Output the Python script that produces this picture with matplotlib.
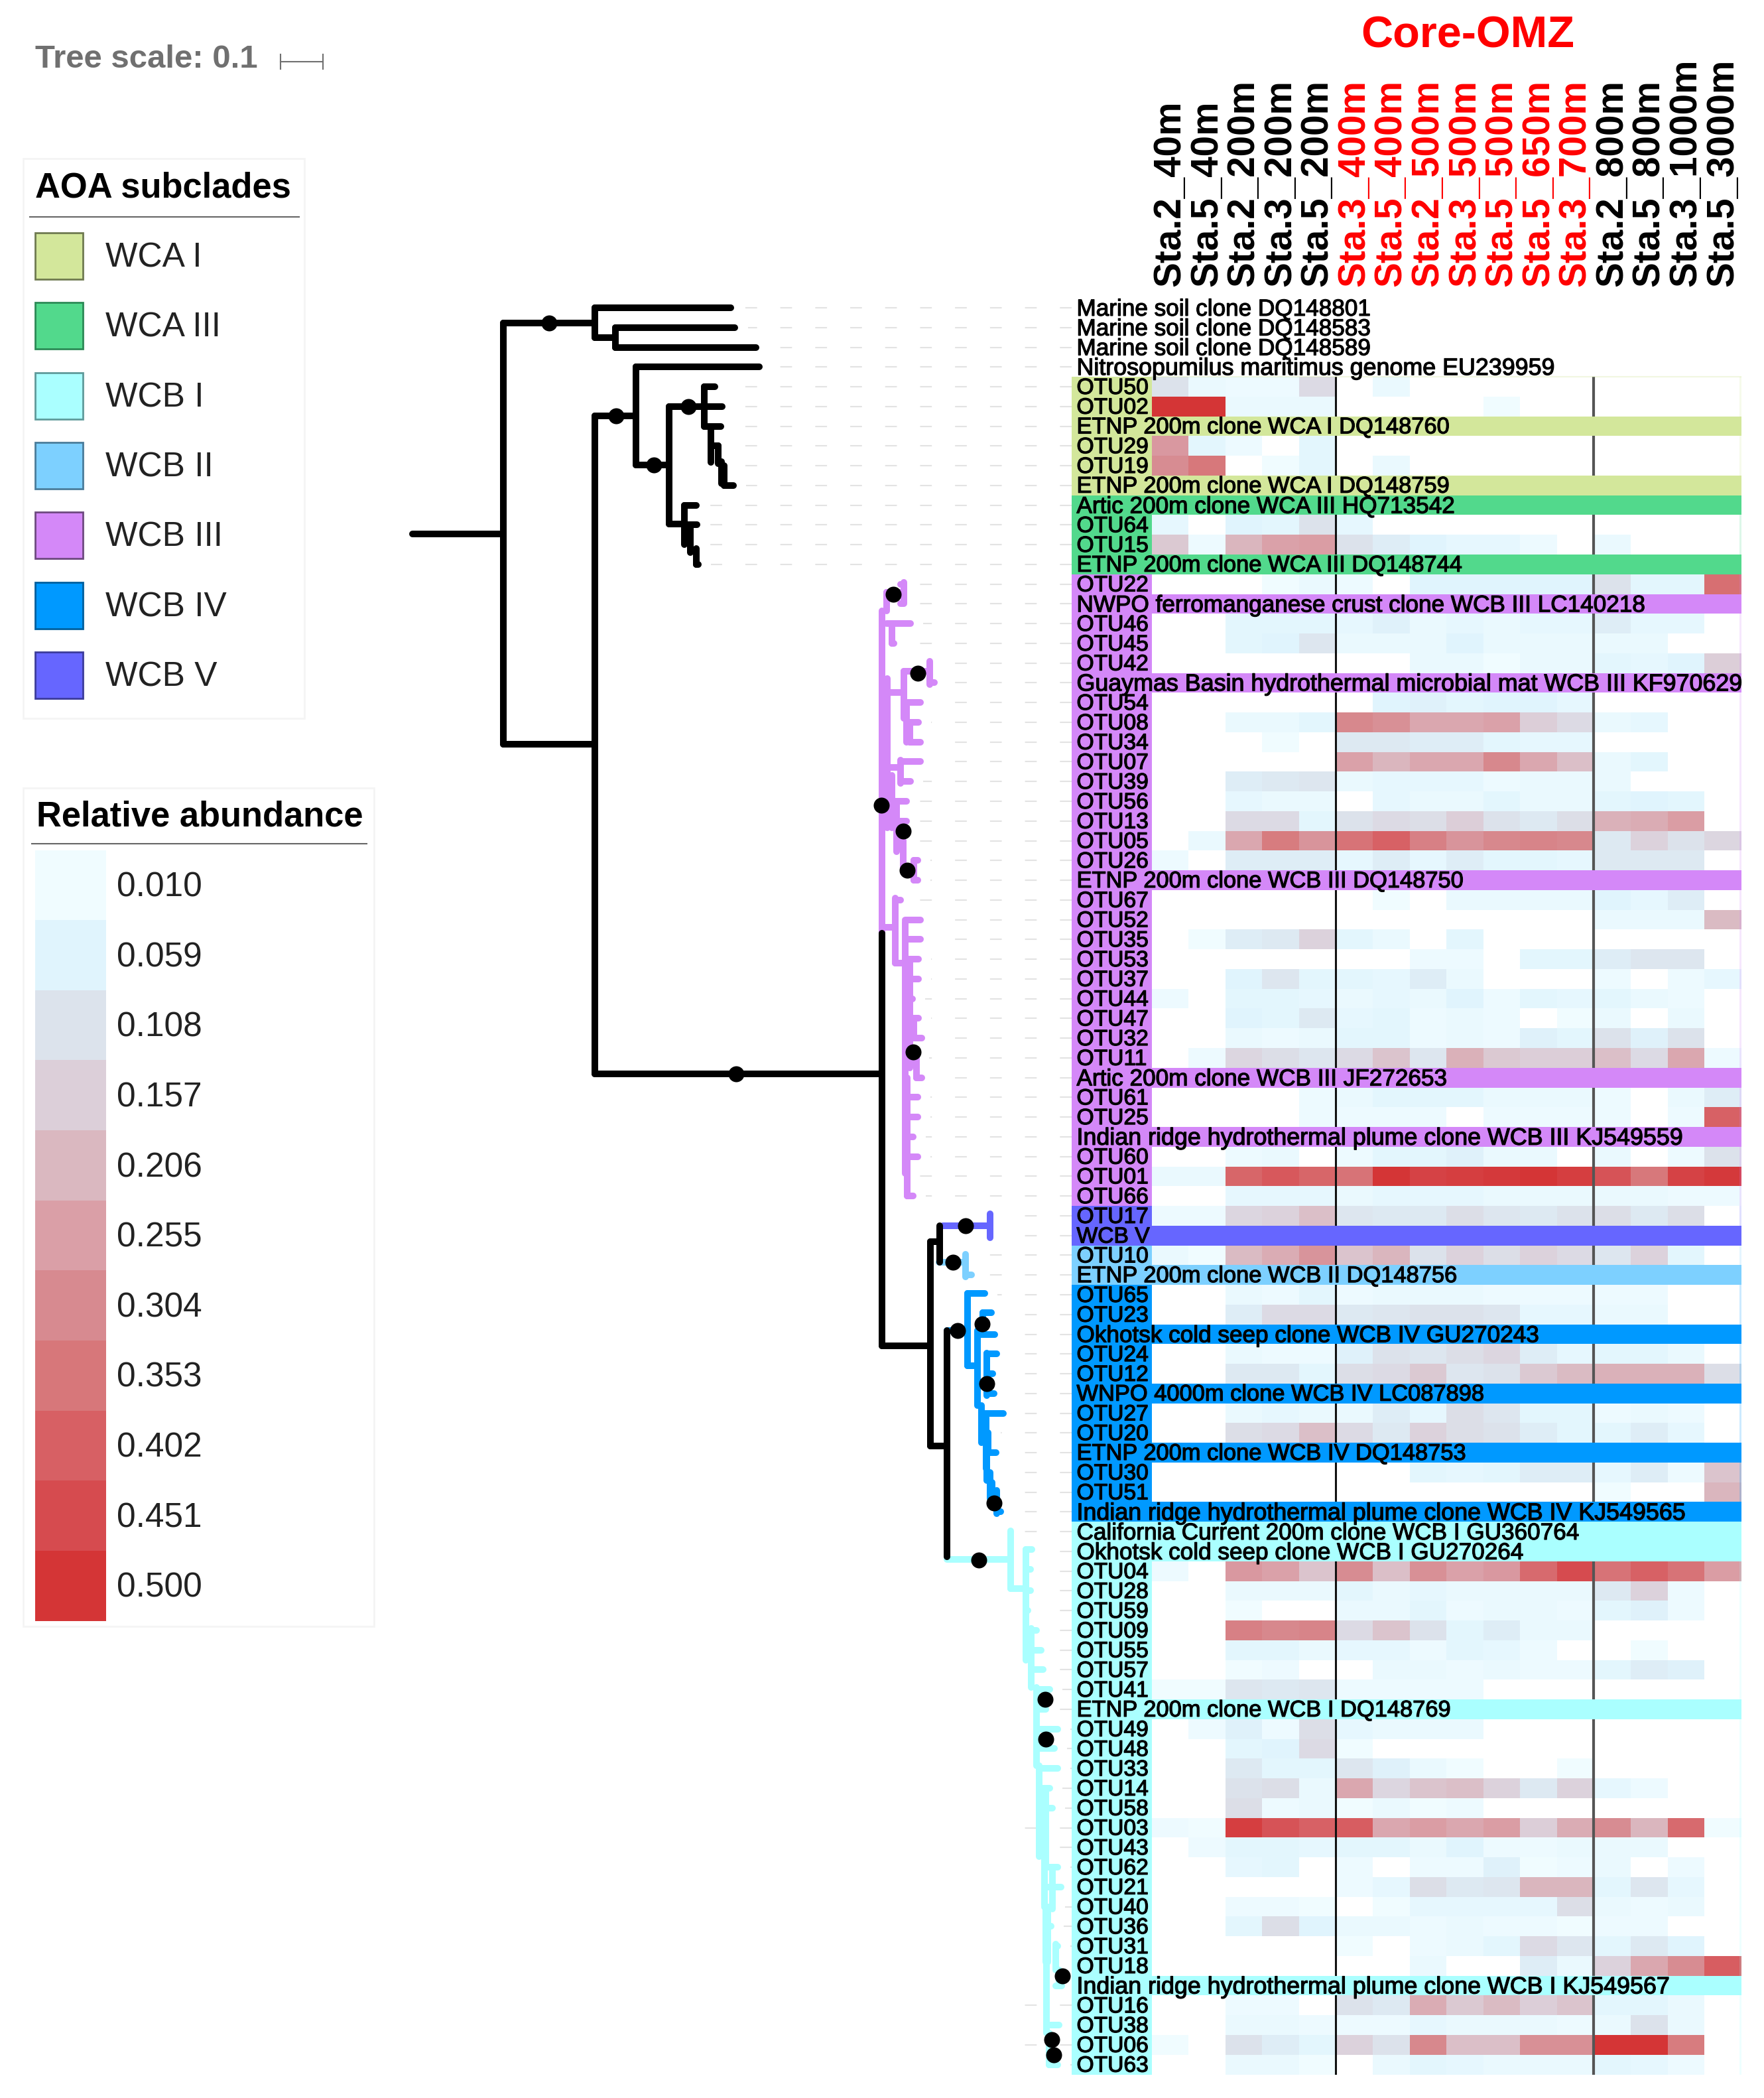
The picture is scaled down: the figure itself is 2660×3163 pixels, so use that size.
# heatmap of AOA OTUs next to the phylogenetic tree
import numpy as np
import matplotlib
matplotlib.use('Agg')
import matplotlib.pyplot as plt
import matplotlib.patheffects as pe
from matplotlib.colors import LinearSegmentedColormap
from matplotlib.patches import Rectangle

plt.rcParams['font.family'] = ['Liberation Sans', 'DejaVu Sans']

W, H = 2660, 3163
ROW0, ROWH = 464, 29.76

# samples along the top, 5..11 are the core OMZ ones
col_labels = ['Sta.2_40m', 'Sta.5_40m', 'Sta.2_200m', 'Sta.3_200m', 'Sta.5_200m', 'Sta.3_400m', 'Sta.5_400m',
              'Sta.2_500m', 'Sta.3_500m', 'Sta.5_500m', 'Sta.5_650m', 'Sta.3_700m', 'Sta.2_800m', 'Sta.5_800m',
              'Sta.3_1000m', 'Sta.5_3000m']
core_cols = [5, 6, 7, 8, 9, 10, 11]

row_labels = ['Marine soil clone DQ148801', 'Marine soil clone DQ148583', 'Marine soil clone DQ148589',
              'Nitrosopumilus maritimus genome EU239959',
              'OTU50', 'OTU02', 'ETNP 200m clone WCA I DQ148760', 'OTU29', 'OTU19', 'ETNP 200m clone WCA I DQ148759',
              'Artic 200m clone WCA III HQ713542', 'OTU64', 'OTU15', 'ETNP 200m clone WCA III DQ148744',
              'OTU22', 'NWPO ferromanganese crust clone WCB III LC140218', 'OTU46', 'OTU45', 'OTU42',
              'Guaymas Basin hydrothermal microbial mat WCB III KF970629', 'OTU54', 'OTU08', 'OTU34', 'OTU07', 'OTU39',
              'OTU56', 'OTU13', 'OTU05', 'OTU26', 'ETNP 200m clone WCB III DQ148750', 'OTU67', 'OTU52', 'OTU35',
              'OTU53', 'OTU37', 'OTU44', 'OTU47', 'OTU32', 'OTU11', 'Artic 200m clone WCB III JF272653', 'OTU61',
              'OTU25', 'Indian ridge hydrothermal plume clone WCB III KJ549559', 'OTU60', 'OTU01', 'OTU66',
              'OTU17', 'WCB V',
              'OTU10', 'ETNP 200m clone WCB II DQ148756',
              'OTU65', 'OTU23', 'Okhotsk cold seep clone WCB IV GU270243', 'OTU24', 'OTU12',
              'WNPO 4000m clone WCB IV LC087898', 'OTU27', 'OTU20', 'ETNP 200m clone WCB IV DQ148753', 'OTU30', 'OTU51',
              'Indian ridge hydrothermal plume clone WCB IV KJ549565',
              'California Current 200m clone WCB I GU360764', 'Okhotsk cold seep clone WCB I GU270264', 'OTU04',
              'OTU28', 'OTU59', 'OTU09', 'OTU55', 'OTU57', 'OTU41', 'ETNP 200m clone WCB I DQ148769', 'OTU49', 'OTU48',
              'OTU33', 'OTU14', 'OTU58', 'OTU03', 'OTU43', 'OTU62', 'OTU21', 'OTU40', 'OTU36', 'OTU31', 'OTU18',
              'Indian ridge hydrothermal plume clone WCB I KJ549567', 'OTU16', 'OTU38', 'OTU06', 'OTU63']
row_clade = [None] * 4 + ['WCA I'] * 6 + ['WCA III'] * 4 + ['WCB III'] * 32 + ['WCB V'] * 2 + ['WCB II'] * 2 \
    + ['WCB IV'] * 12 + ['WCB I'] * 28

clade_names = ['WCA I', 'WCA III', 'WCB I', 'WCB II', 'WCB III', 'WCB IV', 'WCB V']
clade_colors = ['#d3e79b', '#52d98c', '#aaffff', '#7dd0ff', '#d488f8', '#0099ff', '#6666ff']
clade_edges = ['#6f7a50', '#2c8a56', '#5f9a9a', '#4a7c9a', '#6e4a80', '#005f9e', '#3c3c9c']

legend_values = [0.010, 0.059, 0.108, 0.157, 0.206, 0.255, 0.304, 0.353, 0.402, 0.451, 0.500]
legend_colors = ['#f0fcff', '#e0f4fd', '#dce3ec', '#dccfd9', '#dab8c0', '#da9fa7',
                 '#d78a90', '#d7777a', '#d76064', '#d64b4f', '#d43536']

# abundance per sample
OTU50 = [.11, .03, .02, .02, .13, 0, .03, 0, 0, 0, 0, 0, 0, 0, 0, 0]
OTU02 = [.50, .50, .03, .03, .03, 0, 0, 0, 0, .01, 0, 0, 0, 0, 0, 0]
OTU29 = [.27, .05, .02, 0, .05, 0, 0, 0, 0, 0, 0, 0, 0, 0, 0, 0]
OTU19 = [.30, .35, 0, .01, .05, 0, .03, 0, 0, 0, 0, 0, 0, 0, 0, 0]
OTU64 = [.04, 0, .06, .05, .11, .04, 0, 0, 0, 0, 0, 0, 0, 0, 0, 0]
OTU15 = [.17, .02, .21, .25, .26, .11, .08, .06, .04, .04, .02, 0, .03, 0, 0, 0]
OTU22 = [0, 0, 0, .01, .03, .02, 0, .06, .06, .06, .06, .06, .11, .05, .05, .37]
OTU46 = [0, 0, .05, .05, .05, .04, .07, .03, .04, .03, .04, .04, .08, .04, .04, 0]
OTU45 = [0, 0, .05, .06, .10, .03, .03, .03, .06, .03, .03, .03, .03, .03, 0, 0]
OTU42 = [0, 0, 0, 0, 0, 0, 0, .03, .03, .01, .03, .03, .05, .04, .06, .16]
OTU54 = [0, 0, 0, 0, 0, 0, .06, .07, .05, .06, .06, .04, 0, 0, 0, 0]
OTU08 = [0, 0, .03, .03, .05, .31, .29, .24, .24, .25, .16, .13, .03, .04, 0, 0]
OTU34 = [0, 0, 0, .01, 0, .09, .09, .08, .08, .05, .04, .04, 0, 0, 0, 0]
OTU07 = [0, 0, 0, 0, 0, .25, .21, .24, .24, .31, .24, .19, .03, .05, 0, 0]
OTU39 = [0, 0, .08, .09, .10, .03, .04, .04, .04, .02, .03, .03, .03, 0, 0, 0]
OTU56 = [0, 0, .04, .03, .03, 0, .04, .03, .03, .05, .03, .03, .05, .06, .05, 0]
OTU13 = [0, 0, .13, .13, .05, .11, .13, .12, .16, .11, .09, .12, .22, .23, .26, 0]
OTU05 = [0, .03, .24, .34, .28, .36, .40, .33, .28, .31, .32, .31, .09, .15, .11, .14]
OTU26 = [.02, 0, .08, .08, .08, .04, .08, .04, .08, .05, .05, .04, .09, .09, .09, 0]
OTU67 = [0, 0, 0, 0, 0, 0, .01, 0, .03, .03, .03, .03, .06, .04, .08, 0]
OTU52 = [0, 0, 0, 0, 0, 0, 0, 0, 0, 0, 0, 0, .03, .03, .03, .20]
OTU35 = [0, .01, .08, .09, .15, .05, .03, 0, .05, 0, 0, 0, 0, 0, 0, 0]
OTU53 = [0, 0, 0, 0, 0, 0, 0, .02, .02, 0, .05, .05, .08, .10, .10, 0]
OTU37 = [0, 0, .06, .10, .05, .05, .04, .08, .03, 0, 0, 0, .02, 0, .02, .04]
OTU44 = [.02, 0, .05, .05, .04, .03, .04, .03, .06, .02, .05, .04, .05, .03, .02, 0]
OTU47 = [0, 0, .06, .05, .09, .04, .05, .02, .03, .02, 0, .01, .03, 0, .03, 0]
OTU32 = [0, 0, .03, .02, .03, .05, .05, .02, .03, .02, .07, .05, .11, .07, .11, 0]
OTU11 = [0, .02, .14, .12, .10, .13, .18, .10, .22, .17, .16, .16, .19, .13, .24, .02]
OTU61 = [0, 0, 0, 0, .02, .03, .05, .05, .05, .03, .03, .03, .02, 0, .03, .08]
OTU25 = [0, 0, 0, 0, .02, .02, .02, .02, 0, .02, .02, .02, .02, 0, .02, .40]
OTU60 = [0, 0, .02, .03, 0, .02, .05, .05, .07, .03, .03, 0, .03, 0, .02, .11]
OTU01 = [.03, .03, .39, .42, .39, .36, .50, .47, .48, .49, .50, .48, .43, .35, .47, .49]
OTU66 = [0, 0, .04, .04, .04, .03, .04, .04, .04, .03, .03, .03, .03, .03, .02, .02]
OTU17 = [.02, .02, .14, .15, .19, .10, .09, .09, .12, .10, .09, .11, .12, .09, .12, 0]
OTU10 = [.03, .01, .20, .23, .28, .18, .21, .11, .15, .12, .15, .13, .10, .15, .05, 0]
OTU65 = [0, 0, .03, .02, .05, .02, .03, .03, .03, .02, .02, .02, .02, .02, 0, 0]
OTU23 = [0, 0, .08, .13, .13, .09, .10, .11, .11, .10, .04, .04, .03, .03, 0, 0]
OTU24 = [0, 0, .03, .02, .02, .07, .11, .10, .12, .14, .08, .04, .05, .05, .03, 0]
OTU12 = [0, 0, .09, .09, .05, .12, .13, .17, .10, .11, .17, .20, .22, .22, .22, .12]
OTU27 = [0, 0, .03, .04, .03, .03, .08, .04, .12, .10, .05, .05, .02, .03, .02, 0]
OTU20 = [0, 0, .12, .13, .19, .13, .09, .15, .12, .11, .08, .05, .05, .08, .04, 0]
OTU30 = [0, 0, 0, 0, 0, 0, 0, .05, .04, .05, .08, .08, .04, .08, .02, .18]
OTU51 = [0, 0, 0, 0, 0, 0, 0, 0, 0, 0, 0, 0, .01, 0, 0, .21]
OTU04 = [.02, 0, .27, .25, .18, .30, .19, .29, .25, .27, .38, .45, .36, .40, .36, .26]
OTU28 = [0, 0, .03, .03, .03, .05, .03, .04, .03, .03, .03, .03, .09, .15, .02, 0]
OTU59 = [0, 0, .01, 0, 0, .03, .03, .05, .02, .03, .03, .02, .05, .07, .02, 0]
OTU09 = [0, 0, .33, .31, .32, .13, .18, .11, .05, .08, .03, .03, 0, 0, 0, 0]
OTU55 = [0, 0, .05, .05, .03, .04, .04, .02, .05, .04, .02, 0, 0, .01, 0, 0]
OTU57 = [0, 0, .01, .02, 0, 0, .03, .03, .02, .03, .02, .02, .05, .08, .07, 0]
OTU41 = [.01, .01, .10, .09, .10, .02, .02, .02, .02, 0, 0, 0, 0, 0, 0, 0]
OTU49 = [0, .02, .07, .02, .12, .04, .03, .03, .03, 0, 0, 0, 0, 0, 0, 0]
OTU48 = [0, 0, .05, .06, .13, .01, 0, 0, 0, 0, 0, 0, 0, 0, 0, 0]
OTU33 = [0, 0, .09, .05, .05, .10, .07, .03, .01, 0, 0, .01, 0, 0, 0, 0]
OTU14 = [0, 0, .11, .12, .03, .24, .14, .18, .19, .15, .09, .15, .04, .02, 0, 0]
OTU58 = [0, 0, .12, .02, .03, .01, .03, .01, .02, 0, 0, 0, 0, 0, 0, 0]
OTU03 = [.02, .01, .48, .43, .40, .41, .24, .26, .24, .26, .16, .23, .30, .21, .38, .01]
OTU43 = [0, .02, .05, .05, .04, .05, .05, .03, .06, .02, .02, .03, .03, .03, 0, 0]
OTU62 = [0, 0, .04, .05, 0, .02, 0, .02, .02, .07, .01, .02, .03, 0, .02, 0]
OTU21 = [0, 0, 0, 0, 0, .02, .04, .12, .09, .10, .21, .21, .05, .10, .04, 0]
OTU40 = [0, 0, .02, .02, .01, 0, .01, .04, .04, .04, .04, .12, .03, .02, .03, 0]
OTU36 = [0, 0, .05, .12, .06, .03, .03, .02, .03, .02, .02, .01, .02, .02, 0, 0]
OTU31 = [0, 0, 0, 0, 0, .01, 0, .02, .03, .05, .13, .10, .05, .09, .06, 0]
OTU18 = [0, 0, 0, 0, 0, 0, 0, .03, 0, 0, .08, .03, .15, .24, .30, .41]
OTU16 = [0, 0, .02, .02, 0, .11, .09, .23, .17, .20, .16, .18, .05, .05, .03, 0]
OTU38 = [0, 0, .03, .03, .02, .02, .02, .04, .03, .03, .03, .02, .03, .11, .03, 0]
OTU06 = [.01, 0, .11, .08, .05, .15, .11, .31, .19, .19, .29, .29, .50, .50, .34, 0]
OTU63 = [0, 0, .03, .03, .01, 0, .03, .05, .04, .03, .03, .03, .05, .04, .02, 0]

# same order as the OTU rows in row_labels
otu_rows = [OTU50, OTU02, OTU29, OTU19, OTU64, OTU15, OTU22, OTU46, OTU45, OTU42, OTU54, OTU08, OTU34, OTU07, OTU39,
            OTU56, OTU13, OTU05, OTU26, OTU67, OTU52, OTU35, OTU53, OTU37, OTU44, OTU47, OTU32, OTU11, OTU61, OTU25,
            OTU60, OTU01, OTU66, OTU17, OTU10, OTU65, OTU23, OTU24, OTU12, OTU27, OTU20, OTU30, OTU51, OTU04, OTU28,
            OTU59, OTU09, OTU55, OTU57, OTU41, OTU49, OTU48, OTU33, OTU14, OTU58, OTU03, OTU43, OTU62, OTU21, OTU40,
            OTU36, OTU31, OTU18, OTU16, OTU38, OTU06, OTU63]

# tree branches: horizontal (row, depth from, depth to), vertical (depth, row from, row to)
black_h = [(11.46, 0, .214), (.76, .214, .43), (0, .43, .75), (1.5, .43, .478), (1, .478, .76), (2, .478, .81),
           (22.1, .214, .43), (5.47, .43, .527), (3, .527, .817), (7.97, .527, .605), (5, .605, .688),
           (4, .688, .712), (5, .688, .73), (6, .688, .727), (7, .703, .72), (9, .735, .756),
           (10.95, .605, .64), (10, .64, .669), (11, .64, .67), (13, .668, .673),
           (38.8, .43, 1.103), (52.6, 1.106, 1.216), (47.3, 1.22, 1.242), (57.66, 1.22, 1.26)]
black_v = [(.214, .76, 22.1), (.43, 0, 1.5), (.478, 1, 2), (.43, 5.47, 38.8), (.527, 3, 7.97),
           (.605, 5, 10.95), (.688, 4, 6), (.703, 6, 7.83), (.72, 7, 7.9), (.728, 7.8, 8.9), (.735, 8, 9),
           (.64, 10, 12), (.655, 11, 12.4), (.668, 12.2, 13),
           (1.106, 31.7, 52.6), (1.22, 47.3, 57.66), (1.26, 51.8, 63.28), (1.242, 46.5, 48.35)]

wcbv_h = [(46.5, 1.25, 1.356)]
wcbv_v = [(1.361, 45.9, 47.1)]
wcbii_h = [(48.35, 1.24, 1.297), (49, 1.303, 1.317)]
wcbii_v = [(1.303, 47.95, 49.1)]
wcbiv_h = [(51.8, 1.26, 1.305), (49.93, 1.308, 1.348), (53.6, 1.308, 1.33), (50.9, 1.344, 1.364), (52, 1.331, 1.372),
           (53, 1.353, 1.377), (54, 1.353, 1.367), (55, 1.353, 1.37), (56, 1.34, 1.392), (58, 1.353, 1.375),
           (61, 1.377, 1.386)]
wcbiv_v = [(1.308, 49.93, 53.6), (1.331, 51.8, 55.6), (1.344, 50.9, 52), (1.353, 52.97, 55.1), (1.34, 55.6, 57.5),
           (1.352, 56.2, 58.8), (1.356, 57, 58), (1.353, 58, 59.4), (1.361, 59, 60.3), (1.377, 59.9, 61.1),
           (1.365, 59.5, 60.3)]
wcbi_h = [(63.4, 1.26, 1.403), (64.9, 1.41, 1.439), (62.9, 1.445, 1.459), (63.9, 1.445, 1.456), (65, 1.445, 1.456),
          (66, 1.445, 1.45), (67, 1.458, 1.47), (68, 1.458, 1.481), (69, 1.458, 1.486), (70, 1.47, 1.502),
          (71, 1.47, 1.492), (72, 1.47, 1.52), (73, 1.47, 1.512), (74, 1.476, 1.52), (75, 1.476, 1.502),
          (76, 1.476, 1.508), (79, 1.492, 1.52), (80, 1.492, 1.528), (81, 1.489, 1.508), (82, 1.492, 1.505),
          (83, 1.516, 1.52), (85, 1.516, 1.53), (87, 1.494, 1.523), (89, 1.5, 1.52)]
wcbi_v = [(1.41, 61.96, 64.9), (1.445, 62.9, 68.5), (1.458, 66.9, 69.9), (1.47, 69.9, 73.85), (1.476, 73.85, 78.46),
          (1.492, 75, 79), (1.489, 78.4, 80.9), (1.508, 79, 81.1), (1.492, 81, 83.8), (1.497, 81, 83.8),
          (1.494, 83.8, 87.4), (1.516, 82.9, 84.2), (1.5, 87.4, 89), (1.523, 84.2, 85)]
wcbiii_h = [(14.4, 1.117, 1.15), (14, 1.15, 1.158), (15, 1.15, 1.155), (16, 1.117, 1.173), (17, 1.13, 1.135),
            (19.5, 1.119, 1.158), (18.4, 1.158, 1.21), (19, 1.219, 1.23), (20, 1.158, 1.197), (21, 1.164, 1.192),
            (22, 1.172, 1.197), (23.3, 1.119, 1.15), (23, 1.15, 1.197), (24, 1.15, 1.173), (25, 1.13, 1.164),
            (26, 1.14, 1.164), (27, 1.14, 1.156), (28, 1.181, 1.19), (29, 1.181, 1.19),
            (31.4, 1.106, 1.1375), (30, 1.1375, 1.15), (33.2, 1.1375, 1.161),
            (31, 1.161, 1.197), (32, 1.161, 1.197), (33, 1.161, 1.192), (34, 1.161, 1.192), (35, 1.161, 1.178),
            (36, 1.161, 1.192), (37, 1.172, 1.2), (39, 1.1875, 1.2), (40, 1.166, 1.19), (41, 1.166, 1.19),
            (42, 1.166, 1.18), (43, 1.166, 1.19), (45, 1.166, 1.18)]
wcbiii_v = [(1.106, 15.35, 31.7), (1.117, 14.4, 15.35), (1.158, 13.9, 15), (1.13, 16, 17), (1.119, 18.8, 26.35),
            (1.158, 18.4, 20.8), (1.219, 17.9, 19.1), (1.164, 20, 22), (1.172, 21, 22), (1.15, 22.9, 24.1),
            (1.13, 23.7, 26.35), (1.14, 25, 27.55), (1.156, 27, 28.4), (1.181, 28, 29), (1.1375, 29.9, 33.2),
            (1.161, 31.1, 43.86), (1.172, 33, 38.5), (1.181, 36, 37), (1.1875, 38, 39), (1.166, 39, 45)]

support_nodes = [(.322, .76), (.48, 5.47), (.568, 7.97), (.65, 5),
                 (.7625, 38.8), (1.19, 18.5), (1.105, 25.2), (1.133, 14.5), (1.156, 26.5), (1.166, 28.5), (1.18, 37.7),
                 (1.303, 46.5), (1.273, 48.35), (1.284, 51.8), (1.342, 51.47), (1.353, 54.5), (1.37, 60.56),
                 (1.334, 63.45), (1.49, 70.5), (1.492, 72.5), (1.531, 84.5), (1.506, 87.74), (1.511, 88.5)]

scale_bar = 0.1

fig = plt.figure(figsize=(W / 100, H / 100), dpi=100)


def axes_px(left, top, right, bottom, **kw):
    # axes from picture pixels
    return fig.add_axes([left / W, 1 - bottom / H, (right - left) / W, (bottom - top) / H], **kw)


def row_y(r):
    return ROW0 + ROWH * r


def label_size(lab):
    # the names do not all run the same width as the Liberation metrics
    if lab.startswith('OTU') or lab == 'WCB V':
        return 24.2
    if lab.startswith(('ETNP', 'WNPO')):
        return 24.8
    if lab.startswith(('Guaymas', 'Indian', 'Nitrosopumilus')):
        return 25.8
    return 25.3


# page axes, in pixels, for the legends and the tree scale
page = axes_px(0, 0, W, H)
page.set_xlim(0, W)
page.set_ylim(H, 0)
page.axis('off')

# tree
TREE_L, TREE_R = 622, 1616
PX_PER_UNIT = 64 / scale_bar
tree = axes_px(TREE_L, row_y(-1), TREE_R, row_y(90))
tree.set_xlim(0, (TREE_R - TREE_L) / PX_PER_UNIT)
tree.set_ylim(90, -1)
tree.axis('off')
tree.patch.set_alpha(0)

branch_sets = [('WCB III', wcbiii_h, wcbiii_v), ('WCB I', wcbi_h, wcbi_v), ('WCB IV', wcbiv_h, wcbiv_v),
               ('WCB II', wcbii_h, wcbii_v), ('WCB V', wcbv_h, wcbv_v), (None, black_h, black_v)]
LW = 7.2
tips = {}
for name, hs, vs in branch_sets:
    color = 'black' if name is None else clade_colors[clade_names.index(name)]
    for r, d0, d1 in hs:
        tree.plot([d0, d1], [r, r], color=color, lw=LW, solid_capstyle='round', zorder=3, clip_on=False)
        k = int(round(r))
        tips[k] = max(tips.get(k, 0), d1)
    for d, r0, r1 in vs:
        tree.plot([d, d], [r0, r1], color=color, lw=LW, solid_capstyle='round', zorder=3, clip_on=False)
        for k in (int(round(r0)), int(round(r1))):
            tips[k] = max(tips.get(k, 0), d)

for d, r in support_nodes:
    tree.scatter([d], [r], s=300, color='black', linewidths=0, zorder=5, clip_on=False)

# dashed guides from the tips to the labels, run from the right so the dashes line up
xmax = tree.get_xlim()[1]
for i in range(len(row_labels)):
    start = tips.get(i, 1.4) + 0.03
    tree.plot([xmax, start], [i, i], color='#e3e3e3', lw=1.5, ls=(0, (8.5, 16.8)), zorder=1, dash_capstyle='butt')

# heatmap
HEAT_L, HEAT_R = 1736.6, 2625.7
heat = axes_px(HEAT_L, row_y(3.5), HEAT_R, row_y(89.5))
stops = [(0, '#ffffff')] + [(v / legend_values[-1], c) for v, c in zip(legend_values, legend_colors)]
cmap = LinearSegmentedColormap.from_list('abund', stops)

grid = np.full((len(row_labels) - 4, len(col_labels)), np.nan)
otu_iter = iter(otu_rows)
for i, lab in enumerate(row_labels[4:]):
    if lab.startswith('OTU'):
        grid[i] = next(otu_iter)
heat.pcolormesh(np.arange(len(col_labels) + 1), np.arange(3.5, 90.5), np.ma.masked_invalid(grid), cmap=cmap,
                vmin=0, vmax=legend_values[-1], linewidth=0)
heat.set_xlim(0, len(col_labels))
heat.set_ylim(89.5, 3.5)
heat.axvline(5, color='#111111', lw=2.2, zorder=3)
heat.axvline(12, color='#555555', lw=3, zorder=3)
for s in heat.spines.values():
    s.set_visible(False)
heat.set_yticks([])
heat.xaxis.tick_top()
heat.set_xticks(np.arange(len(col_labels)) + 0.5)
heat.set_xticklabels(col_labels, rotation=90, fontsize=40.8, fontweight='bold', ha='center', va='bottom')
heat.tick_params(axis='x', length=0, pad=98)
for i, t in enumerate(heat.get_xticklabels()):
    t.set_color('#ff0000' if i in core_cols else 'black')

# clade strips and row names sit on top of the heatmap
strip = axes_px(1616, row_y(-1), HEAT_R, row_y(90))
strip.set_xlim(1616, HEAT_R)
strip.set_ylim(90, -1)
strip.axis('off')
strip.patch.set_alpha(0)
for i, lab in enumerate(row_labels):
    clade = row_clade[i]
    if clade is not None:
        color = clade_colors[clade_names.index(clade)]
        right = HEAT_L if lab.startswith('OTU') else HEAT_R
        strip.barh(i, right - 1616, left=1616, height=1.0, color=color, linewidth=0, zorder=2)
        # faint tint left at the far right of the OTU rows
        strip.barh(i, 2.5, left=HEAT_R - 2.5, height=1.0, color=color, alpha=0.2, linewidth=0, zorder=2)
    strip.text(1623.5, i + 0.08, lab, fontsize=label_size(lab), va='center', ha='left', color='black', zorder=4,
               path_effects=[pe.withStroke(linewidth=0.9, foreground='black')])
strip.plot([HEAT_L, HEAT_R], [3.5, 3.5], color=clade_colors[0], alpha=0.3, lw=1.5, zorder=2)

# tree scale
page.text(53, 89, 'Tree scale: 0.1', fontsize=35.4, fontweight='bold', color='#707070', va='center')
page.plot([423, 487], [93, 93], color='#707070', lw=1.5)
page.plot([423, 423], [82, 104], color='#707070', lw=1.5)
page.plot([487, 487], [82, 104], color='#707070', lw=1.5)

# Core-OMZ header
page.text(2213, 55, 'Core-OMZ', fontsize=48, fontweight='bold', color='#ff0000', ha='center', va='center')

# subclade legend
page.add_patch(Rectangle((35, 239), 424, 844, fc='white', ec='#f4f4f4', lw=2))
page.text(53, 284, 'AOA subclades', fontsize=37.8, fontweight='bold', color='black', va='center')
page.plot([45, 451], [327, 327], color='#666666', lw=1.5)
for i, name in enumerate(clade_names):
    y = 351 + 105.3 * i
    page.add_patch(Rectangle((53, y), 71.5, 70, fc=clade_colors[i], ec=clade_edges[i], lw=2))
    page.text(159, y + 38, name, fontsize=37, color='#222222', va='center')

# abundance legend
page.add_patch(Rectangle((35, 1188), 529, 1264, fc='white', ec='#f4f4f4', lw=2))
page.text(55, 1232, 'Relative abundance', fontsize=37.8, fontweight='bold', color='black', va='center')
page.plot([48, 553], [1272, 1272], color='#666666', lw=1.5)
for i, v in enumerate(legend_values):
    y = 1281.5 + 105.64 * i
    page.add_patch(Rectangle((52.6, y), 107.4, 105.64, fc=legend_colors[i], ec='none'))
    page.text(176, y + 56.5, '%.3f' % v, fontsize=37, color='#222222', va='center')

fig.savefig('out.png', dpi=100, facecolor='white')
